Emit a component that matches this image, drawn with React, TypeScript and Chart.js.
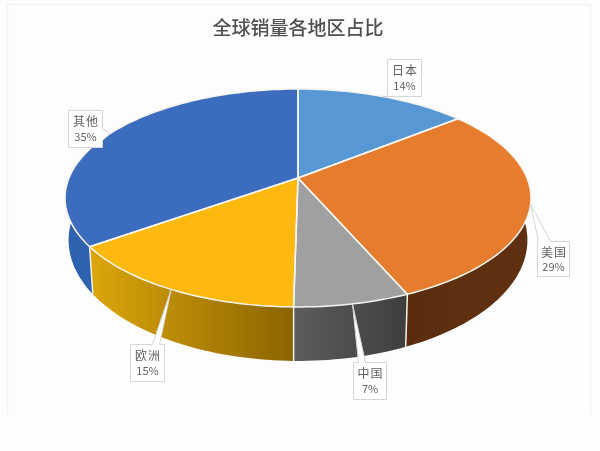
import React, { useEffect, useRef } from "react";
import { Chart, registerables } from "chart.js";

Chart.register(...registerables);

const categories = ["日本", "美国", "中国", "欧洲", "其他"];
const shares = [14.2, 29.3, 6.75, 14.85, 34.9];
const topColors = ["#5797D4", "#E67C2E", "#A0A0A0", "#FDB90F", "#3C6CBD"];
const wallColors = [
  ["#34608A", "#34608A"],
  ["#5A2C0C", "#5E300F"],
  ["#5C5C5C", "#3E3E3E"],
  ["#DCA60C", "#8A6400"],
  ["#2E61AE", "#2A5AA3"],
];
const chartTitle = "全球销量各地区占比";

// Perspective of the disc: screen layout only.
const TOP = { x: 298, y: 178, rx: 229, ry: 105.3, k: 0.1835 };
const BOTTOM = { x: 298, y: 218, rx: 225.5, ry: 116.7, k: 0.1835 };
const FONT = '"Noto Sans CJK SC", "Noto Sans", sans-serif';

// Callout layout relative to the slice's mid point on the rim.
const CALLOUTS = [
  { dx: 4, dy: -37, w: 34, h: 37, side: "bottom", b0: 0, b1: 7 },
  { dx: 6, dy: 37, w: 32, h: 35, side: "top", b0: 1, b1: 13 },
  { dx: 1, dy: 58, w: 33, h: 37, side: "top", b0: 5, b1: 12 },
  { dx: -41, dy: 55, w: 34, h: 37, side: "top", b0: 22, b1: 29 },
  { dx: -42, dy: -24, w: 34, h: 37, side: "right", b0: 18, b1: 30 },
];

function project(d: any, a: number) {
  const u = Math.cos(a);
  const v = Math.sin(a);
  const q = 1 - d.k * v;
  return { x: d.x + (d.rx * u) / q, y: d.y + (d.ry * v) / q };
}

function tracePiece(ctx: any, d: any, a0: number, a1: number, reverse = false) {
  const n = Math.max(8, Math.ceil((a1 - a0) * 40));
  for (let i = 0; i <= n; i++) {
    const t = reverse ? 1 - i / n : i / n;
    const p = project(d, a0 + (a1 - a0) * t);
    ctx.lineTo(p.x, p.y);
  }
}

const pie3d = {
  id: "pie3d",
  beforeDraw(chart: any) {
    const ctx = chart.ctx;
    ctx.save();
    ctx.fillStyle = "#FDFDFD";
    ctx.fillRect(0, 0, chart.width, chart.height);
    ctx.strokeStyle = "#F3F3F3";
    ctx.lineWidth = 1.5;
    ctx.beginPath();
    ctx.moveTo(7.5, 415);
    ctx.lineTo(7.5, 4.5);
    ctx.lineTo(590.5, 4.5);
    ctx.lineTo(590.5, 415);
    ctx.stroke();
    ctx.restore();
  },
  beforeDatasetsDraw(chart: any) {
    const ctx = chart.ctx;
    const arcs = chart.getDatasetMeta(0).data;
    ctx.save();

    // walls, far slices first
    arcs.forEach((arc: any, i: number) => {
      const a0 = arc.startAngle;
      const a1 = arc.endAngle;
      const p0 = project(TOP, a0);
      const p1 = project(TOP, a1);
      const g = ctx.createLinearGradient(Math.min(p0.x, p1.x), 0, Math.max(p0.x, p1.x), 0);
      g.addColorStop(0, wallColors[i][0]);
      g.addColorStop(1, wallColors[i][1]);
      ctx.beginPath();
      tracePiece(ctx, TOP, a0, a1);
      tracePiece(ctx, BOTTOM, a0, a1, true);
      ctx.closePath();
      ctx.fillStyle = g;
      ctx.fill();
    });
    // wall seams
    ctx.strokeStyle = "#F4F1E8";
    ctx.lineWidth = 1.5;
    arcs.forEach((arc: any) => {
      if (Math.sin(arc.endAngle) <= 0) return;
      const p = project(TOP, arc.endAngle);
      const q = project(BOTTOM, arc.endAngle);
      ctx.beginPath();
      ctx.moveTo(p.x, p.y);
      ctx.lineTo(q.x, q.y);
      ctx.stroke();
    });
    // top faces
    arcs.forEach((arc: any, i: number) => {
      ctx.beginPath();
      ctx.moveTo(TOP.x, TOP.y);
      tracePiece(ctx, TOP, arc.startAngle, arc.endAngle);
      ctx.closePath();
      ctx.fillStyle = topColors[i];
      ctx.fill();
    });
    ctx.strokeStyle = "#F7F5EE";
    ctx.lineWidth = 1.5;
    ctx.lineJoin = "round";
    arcs.forEach((arc: any) => {
      ctx.beginPath();
      ctx.moveTo(TOP.x, TOP.y);
      tracePiece(ctx, TOP, arc.startAngle, arc.endAngle);
      ctx.closePath();
      ctx.stroke();
    });

    // callouts
    const total = shares.reduce((s, v) => s + v, 0);
    arcs.forEach((arc: any, i: number) => {
      const tip = project(TOP, (arc.startAngle + arc.endAngle) / 2);
      const c = CALLOUTS[i];
      const x = Math.round(tip.x + c.dx) + 0.5;
      const y = Math.round(tip.y + c.dy) + 0.5;
      ctx.beginPath();
      ctx.moveTo(x, y);
      if (c.side === "top") {
        ctx.lineTo(x + c.b0, y);
        ctx.lineTo(tip.x, tip.y);
        ctx.lineTo(x + c.b1, y);
      }
      ctx.lineTo(x + c.w, y);
      if (c.side === "right") {
        ctx.lineTo(x + c.w, y + c.b0);
        ctx.lineTo(tip.x, tip.y);
        ctx.lineTo(x + c.w, y + c.b1);
      }
      ctx.lineTo(x + c.w, y + c.h);
      if (c.side === "bottom") {
        ctx.lineTo(x + c.b1, y + c.h);
        ctx.lineTo(tip.x, tip.y);
        ctx.lineTo(x + c.b0, y + c.h);
      }
      ctx.lineTo(x, y + c.h);
      ctx.closePath();
      ctx.fillStyle = "#FFFFFF";
      ctx.fill();
      ctx.strokeStyle = "#D6D6D6";
      ctx.lineWidth = 1;
      ctx.stroke();

      ctx.textAlign = "center";
      ctx.textBaseline = "middle";
      ctx.fillStyle = "#5F5F5F";
      ctx.font = `12px ${FONT}`;
      (ctx as any).letterSpacing = "1px";
      ctx.fillText(categories[i], x + c.w / 2 + 0.5, y + c.h * 0.3);
      (ctx as any).letterSpacing = "0px";
      ctx.font = `11px ${FONT}`;
      ctx.fillText(`${Math.round((shares[i] / total) * 100)}%`, x + c.w / 2, y + c.h * 0.72);
    });
    ctx.restore();
    return false;
  },
};

export default function App() {
  const ref = useRef<HTMLCanvasElement | null>(null);
  useEffect(() => {
    document.body.style.margin = "0";
    const chart = new Chart(ref.current as HTMLCanvasElement, {
      type: "pie",
      data: {
        labels: categories,
        datasets: [{ data: shares, backgroundColor: topColors, borderColor: "#FFFFFF" }],
      },
      options: {
        responsive: false,
        animation: false,
        layout: { padding: { top: 16, right: 4 } },
        plugins: {
          legend: { display: false },
          tooltip: { enabled: false },
          title: {
            display: true,
            text: chartTitle,
            color: "#505050",
            font: { family: FONT, size: 19, weight: "500" },
            padding: { top: 0, bottom: 0 },
          },
        },
      },
      plugins: [pie3d],
    } as any);
    return () => chart.destroy();
  }, []);
  return <canvas ref={ref} width={600} height={451} style={{ display: "block" }} />;
}
